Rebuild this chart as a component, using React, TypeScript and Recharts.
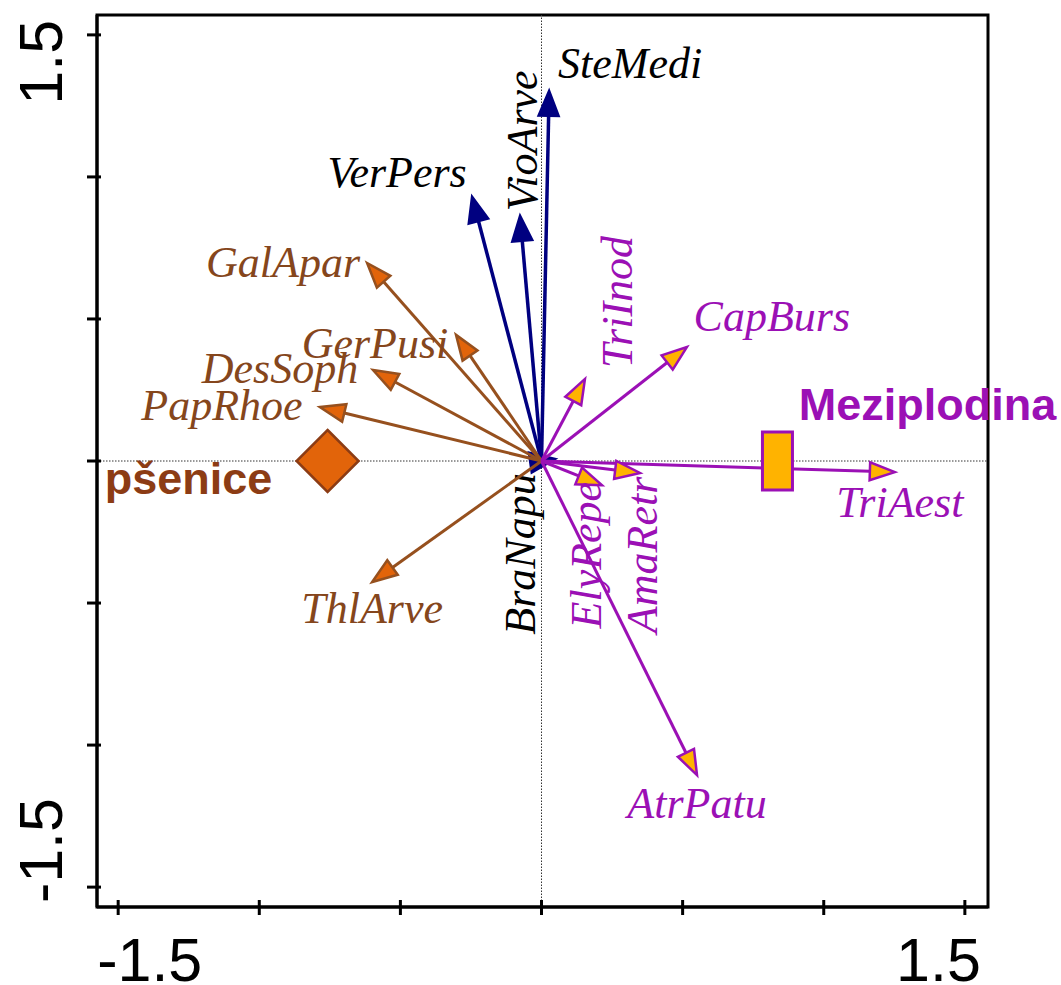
import { ReferenceArea, ReferenceLine, Scatter, ScatterChart, XAxis, YAxis } from 'recharts'

// species scores (arrow tips)
const blueSpecies = ['SteMedi', 'VioArve', 'VerPers', 'BraNapu']
const blueX = [0.027, -0.076, -0.246, 0.048]
const blueY = [1.303, 0.863, 0.93, 0.007]

const brownSpecies = ['GalApar', 'GerPusi', 'DesSoph', 'PapRhoe', 'ThlArve']
const brownX = [-0.618, -0.303, -0.597, -0.785, -0.6]
const brownY = [0.697, 0.444, 0.32, 0.19, -0.426]

const purpleSpecies = ['TriInod', 'CapBurs', 'TriAest', 'ElyRepe', 'AmaRetr', 'AtrPatu']
const purpleX = [0.154, 0.515, 1.252, 0.214, 0.349, 0.551]
const purpleY = [0.289, 0.401, -0.039, -0.085, -0.042, -1.106]

// sample centroids
const centroidNames = ['pšenice', 'Meziplodina']
const centroidX = [-0.758, 0.836]
const centroidY = [0, 0]

const xTicks = [-1.5, -1, -0.5, 0, 0.5, 1, 1.5]
const yTicks = [-1.5, -1, -0.5, 0, 0.5, 1, 1.5]
const xDomain = [-1.575, 1.582]
const yDomain = [-1.57, 1.57]

const SERIF = '"Liberation Serif", "Times New Roman", serif'
const SANS = '"Liberation Sans", Arial, sans-serif'

type Group = 'blue' | 'brown' | 'purple'

const groupStyle: Record<Group, any> = {
  blue: { line: '#000080', head: '#000080', text: '#000000', len: 25, w: 20, width: 3.5 },
  brown: { line: '#96501E', head: '#E2640A', text: '#85461C', len: 25, w: 18, width: 3 },
  purple: { line: '#9B10B5', head: '#FFB300', text: '#9B10B5', len: 25, w: 18, width: 3 },
}

// label placement, px from arrow tip: [dx, dy, vertical]
const labelOffset: Record<string, [number, number, boolean]> = {
  SteMedi: [81, -13, false],
  VioArve: [17, -75, true],
  VerPers: [-75, -10, false],
  BraNapu: [-20, 95, true],
  GalApar: [-84, 14, false],
  GerPusi: [-81, 23, false],
  DesSoph: [-93, 13, false],
  PapRhoe: [-98, 13, false],
  ThlArve: [0, 41, false],
  TriInod: [47, -77, true],
  CapBurs: [85, -16, false],
  TriAest: [5, 45, false],
  ElyRepe: [-1, 70, true],
  AmaRetr: [17, 82, true],
  AtrPatu: [0, 43, false],
}

const arrows = [
  ...blueSpecies.map((n, i) => ({ name: n, x: blueX[i], y: blueY[i], group: 'blue' as Group })),
  ...brownSpecies.map((n, i) => ({ name: n, x: brownX[i], y: brownY[i], group: 'brown' as Group })),
  ...purpleSpecies.map((n, i) => ({ name: n, x: purpleX[i], y: purpleY[i], group: 'purple' as Group })),
]

function Arrow(props: any) {
  const { x1, y1, x2, y2, name, group } = props
  const st = groupStyle[group as Group]
  const a = Math.atan2(y2 - y1, x2 - x1)
  const c = Math.cos(a)
  const s = Math.sin(a)
  const bx = x2 - st.len * c
  const by = y2 - st.len * s
  const hw = st.w / 2
  const pts = `${x2},${y2} ${bx - hw * s},${by + hw * c} ${bx + hw * s},${by - hw * c}`
  const [dx, dy, rot] = labelOffset[name]
  const lx = x2 + dx
  const ly = y2 + dy
  return (
    <g>
      <line x1={x1} y1={y1} x2={bx} y2={by} stroke={st.line} strokeWidth={st.width} />
      <polygon points={pts} fill={st.head} stroke={st.line} strokeWidth={2.5} />
      <text
        x={lx}
        y={ly}
        transform={rot ? `rotate(-90 ${lx} ${ly})` : undefined}
        textAnchor="middle"
        fontFamily={SERIF}
        fontStyle="italic"
        fontSize={44}
        fill={st.text}
      >
        {name}
      </text>
    </g>
  )
}

function Diamond(props: any) {
  const { cx, cy, payload } = props
  const r = 31
  return (
    <g>
      <polygon
        points={`${cx},${cy - r} ${cx + r},${cy} ${cx},${cy + r} ${cx - r},${cy}`}
        fill="#E2640A"
        stroke="#8C3C14"
        strokeWidth={2.5}
      />
      <text x={cx - 139} y={cy + 33} textAnchor="middle" fontFamily={SANS} fontWeight="bold" fontSize={45} fill="#8C3C14">
        {payload.name}
      </text>
    </g>
  )
}

function Box(props: any) {
  const { cx, cy, payload } = props
  return (
    <g>
      <rect x={cx - 15} y={cy - 29} width={30} height={58} fill="#FFB300" stroke="#9B10B5" strokeWidth={3} />
      <text x={cx + 150} y={cy - 41} textAnchor="middle" fontFamily={SANS} fontWeight="bold" fontSize={45} fill="#9B10B5">
        {payload.name}
      </text>
    </g>
  )
}

function XTick(props: any) {
  const { x, y, payload } = props
  const v = payload.value
  return (
    <g>
      <line x1={x} x2={x} y1={y - 7} y2={y + 8} stroke="#000" strokeWidth={3} />
      {v === -1.5 && (
        <text x={x - 21} y={y + 74} textAnchor="start" fontFamily={SANS} fontSize={61} fill="#000">
          -1.5
        </text>
      )}
      {v === 1.5 && (
        <text x={x + 16} y={y + 74} textAnchor="end" fontFamily={SANS} fontSize={61} fill="#000">
          1.5
        </text>
      )}
    </g>
  )
}

function YTick(props: any) {
  const { x, y, payload } = props
  const v = payload.value
  const tx = x - 35
  return (
    <g>
      <line x1={x - 10} x2={x + 4} y1={y} y2={y} stroke="#000" strokeWidth={3} />
      {v === -1.5 && (
        <text x={tx} y={y + 16} transform={`rotate(-90 ${tx} ${y + 16})`} textAnchor="start" fontFamily={SANS} fontSize={61} fill="#000">
          -1.5
        </text>
      )}
      {v === 1.5 && (
        <text x={tx} y={y - 15} transform={`rotate(-90 ${tx} ${y - 15})`} textAnchor="end" fontFamily={SANS} fontSize={61} fill="#000">
          1.5
        </text>
      )}
    </g>
  )
}

export default function App() {
  const wheat = [{ x: centroidX[0], y: centroidY[0], name: centroidNames[0] }]
  const catchCrop = [{ x: centroidX[1], y: centroidY[1], name: centroidNames[1] }]
  return (
    <div style={{ position: 'absolute', left: 0, top: 0, background: '#fff' }}>
      <ScatterChart width={1061} height={985} margin={{ top: 15, right: 73, bottom: 0, left: 0 }}>
        <XAxis
          type="number"
          dataKey="x"
          domain={xDomain}
          ticks={xTicks}
          interval={0}
          height={78}
          tickSize={0}
          tickMargin={0}
          tick={<XTick />}
          axisLine={{ stroke: '#000', strokeWidth: 3 }}
        />
        <YAxis
          type="number"
          dataKey="y"
          domain={yDomain}
          ticks={yTicks}
          interval={0}
          width={97}
          tickSize={0}
          tickMargin={0}
          tick={<YTick />}
          axisLine={{ stroke: '#000', strokeWidth: 3 }}
        />
        <ReferenceArea
          x1={xDomain[0]}
          x2={xDomain[1]}
          y1={yDomain[0]}
          y2={yDomain[1]}
          fill="none"
          fillOpacity={0}
          stroke="#000"
          strokeWidth={3}
          ifOverflow="visible"
        />
        <ReferenceLine x={0} stroke="#333" strokeWidth={1} strokeDasharray="1.5 1.5" />
        <ReferenceLine y={0} stroke="#333" strokeWidth={1} strokeDasharray="1.5 1.5" />
        <Scatter data={wheat} shape={<Diamond />} isAnimationActive={false} />
        <Scatter data={catchCrop} shape={<Box />} isAnimationActive={false} />
        {arrows.map((a) => (
          <ReferenceLine
            key={a.name}
            segment={[
              { x: 0, y: 0 },
              { x: a.x, y: a.y },
            ]}
            ifOverflow="visible"
            shape={(p: any) => <Arrow {...p} name={a.name} group={a.group} />}
          />
        ))}
      </ScatterChart>
    </div>
  )
}
